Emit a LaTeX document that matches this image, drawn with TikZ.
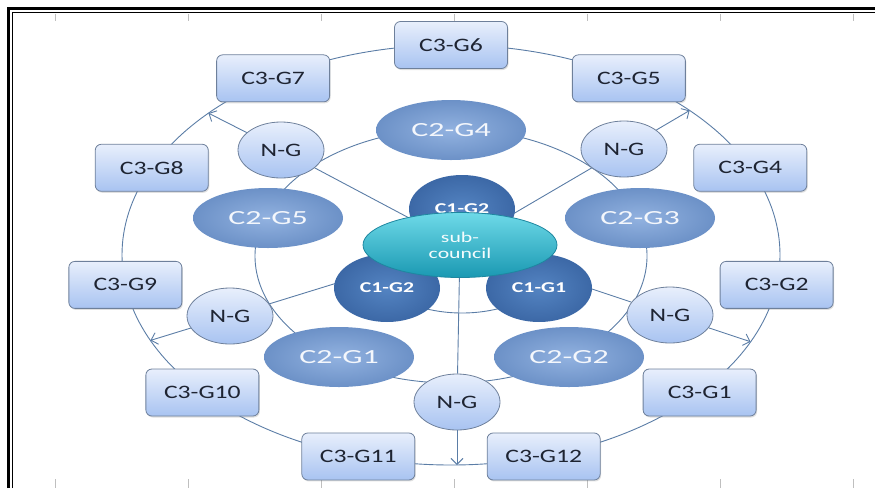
\documentclass[tikz,border=0pt]{standalone}
\usepackage{fontspec}
\setmainfont{Carlito}
\newfontfamily\cthreefont[FakeStretch=1.35]{Carlito}
\newfontfamily\ctwofont[FakeStretch=1.6]{Carlito}
\newfontfamily\conefont[FakeStretch=1.45]{Carlito}
\usepackage{tikz}
\usetikzlibrary{shapes.geometric, arrows.meta, calc, backgrounds, shadows}
\definecolor{linkblue}{RGB}{91,125,166}
\definecolor{boxtop}{RGB}{232,239,252}
\definecolor{boxbot}{RGB}{168,195,241}
\definecolor{boxedge}{RGB}{110,128,155}
\definecolor{inktext}{RGB}{30,36,50}
\definecolor{ctwoin}{RGB}{146,178,224}
\definecolor{ctwoout}{RGB}{108,145,199}
\definecolor{conein}{RGB}{84,132,194}
\definecolor{coneout}{RGB}{60,104,166}
\definecolor{subtop}{RGB}{110,218,232}
\definecolor{subbot}{RGB}{26,152,178}
\definecolor{subedge}{RGB}{30,135,160}

\begin{document}
\begin{tikzpicture}[x=1pt, y=-1pt,
  ring/.style={draw=linkblue, line width=0.9pt},
  link/.style={linkblue, line width=0.9pt},
  outarrow/.style={-{Straight Barb[length=6pt, width=12pt]}, linkblue, line width=0.9pt},
  tickmark/.style={black!25, line width=0.6pt},
  cthree/.style={rectangle, draw=boxedge, line width=0.8pt, rounded corners=6pt,
                 top color=boxtop, bottom color=boxbot, text=inktext,
                 minimum width=113pt, minimum height=47pt, inner sep=0pt,
                 font=\cthreefont\fontsize{19}{22}\selectfont,
                 drop shadow={opacity=0.25, shadow xshift=1pt, shadow yshift=-1.5pt}},
  ngnode/.style={ellipse, draw=boxedge, line width=0.8pt,
                 top color=boxtop, bottom color=boxbot, text=inktext,
                 minimum width=86pt, minimum height=56pt, inner sep=0pt,
                 font=\cthreefont\fontsize{19}{22}\selectfont},
  ctwo/.style={ellipse, shading=radial, inner color=ctwoin, outer color=ctwoout,
               text=white!90!ctwoin, minimum width=150pt, minimum height=60pt,
               inner sep=0pt, font=\ctwofont\fontsize{20}{24}\selectfont},
  cone/.style={ellipse, shading=radial, inner color=conein, outer color=coneout,
               text=white, minimum width=106pt, minimum height=68pt,
               inner sep=0pt, font=\conefont\bfseries\fontsize{15}{18}\selectfont},
  subc/.style={ellipse, draw=subedge, line width=0.8pt, top color=subtop,
               bottom color=subbot, text=white!92!subtop, align=center,
               minimum width=194pt, minimum height=65pt, inner sep=0pt,
               font=\conefont\fontsize{15}{16}\selectfont}]
\useasboundingbox (0,0) rectangle (875,488);

% frame and faint grid ticks
\draw[line width=3pt] (8.5,488) -- (8.5,8.5) -- (875,8.5);
\draw[line width=1.2pt] (12.8,488) -- (12.8,12.8) -- (875,12.8);
\foreach \tx in {55,188,...,853} {
  \draw[tickmark] (\tx,14) -- (\tx,21);
  \draw[tickmark] (\tx,479) -- (\tx,488);
}

% rings
\coordinate (ctr) at (451,255);
\draw[ring] (ctr) ellipse [x radius=329pt, y radius=210pt];
\draw[ring] (451,256) ellipse [x radius=196pt, y radius=127pt];
\draw[ring] (462,263) ellipse [x radius=89pt, y radius=50pt];

% outer groups
\foreach \g [count=\i from 0] in {6,5,4,2,1,12,11,10,9,8,7}
  \node[cthree] (c3g\g) at ($(ctr)+({90-\i*360/11}:329pt and 210pt)$) {C3-G\g};

% middle groups
\node[ctwo] (c2g4) at (451,130) {C2-G4};
\node[ctwo] (c2g3) at (640,218) {C2-G3};
\node[ctwo] (c2g5) at (268,218) {C2-G5};
\node[ctwo] (c2g1) at (339,357) {C2-G1};
\node[ctwo] (c2g2) at (569,357) {C2-G2};

\node[ngnode] (ngtl) at (281,150) {N-G};
\node[ngnode] (ngtr) at (624,149) {N-G};
\node[ngnode] (ngl) at (230,316) {N-G};
\node[ngnode] (ngr) at (670,315) {N-G};
\node[ngnode] (ngb) at (457,402) {N-G};

% inner groups
\node[cone] (c1top) at (462,209) {C1-G2};
\node[cone] (c1left) at (387,288) {C1-G2};
\node[cone] (c1right) at (539,288) {C1-G1};
\node[subc] (sub) at (460,245) {sub-\\council};

\coordinate (tiptl) at ($(ctr)+(137.5:329pt and 210pt)$);
\coordinate (tiptr) at ($(ctr)+(43.5:329pt and 210pt)$);
\coordinate (tipl) at ($(ctr)+(204:329pt and 210pt)$);
\coordinate (tipr) at ($(ctr)+(335.6:329pt and 210pt)$);
\coordinate (tipb) at (457,465);

\begin{scope}[on background layer]
  \foreach \n in {ngtl,ngtr,ngl,ngr,ngb}
    \draw[link] (sub.center) -- (\n);
\end{scope}
\draw[outarrow] (ngtl) -- (tiptl);
\draw[outarrow] (ngtr) -- (tiptr);
\draw[outarrow] (ngl) -- (tipl);
\draw[outarrow] (ngr) -- (tipr);
\draw[outarrow] (ngb) -- (tipb);
\end{tikzpicture}
\end{document}
